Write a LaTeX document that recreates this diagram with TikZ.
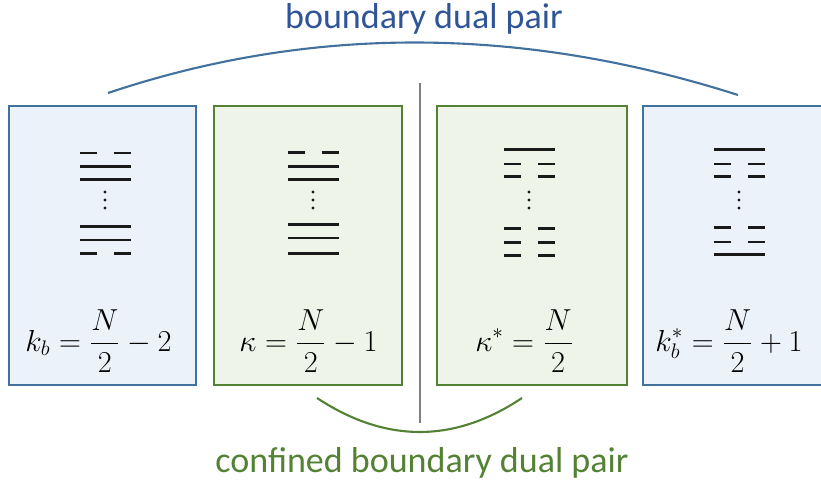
\documentclass[tikz,border=0pt]{standalone}
\usepackage{fontspec}
\newfontfamily\labelfont{Carlito}

\definecolor{boxblue}{HTML}{41719C}
\definecolor{fillblue}{HTML}{ECF2FA}
\definecolor{textblue}{HTML}{2F5597}
\definecolor{boxgreen}{HTML}{548235}
\definecolor{fillgreen}{HTML}{EEF4E8}

\tikzset{
    bluebox/.style={draw=boxblue, fill=fillblue, line width=1.1pt, minimum height=5.58cm},
    greenbox/.style={draw=boxgreen, fill=fillgreen, line width=1.1pt, minimum height=5.58cm},
    bar/.style={line width=1.6pt, color=black!90},
    formula/.style={font=\fontsize{17}{20}\selectfont},
    pairlabel/.style={font=\labelfont\fontsize{20.5}{24}\selectfont, anchor=base}
}

\newcommand{\fullbar}[2]{\draw[bar] (#1-25.5,#2) -- (#1+25.5,#2);}
\newcommand{\splitbar}[2]{%
    \draw[bar] (#1-25.5,#2) -- (#1-8.5,#2);
    \draw[bar] (#1+8.5,#2) -- (#1+25.5,#2);}
\newcommand{\dotsat}[1]{%
    \foreach \d in {192,200,208}
        \fill[black!90] (#1,\d) circle (1.7);}

\begin{document}
\begin{tikzpicture}[x=0.02cm,y=-0.02cm]

\clip (0,0) rectangle (821,486);
\useasboundingbox (0,0) rectangle (821,486);

% Boxes
\node[bluebox, minimum width=3.74cm] (kb) at (102.5,245.5) {};
\node[greenbox, minimum width=3.76cm] (kappa) at (308,245.5) {};
\node[greenbox, minimum width=3.80cm] (kappastar) at (532,245.5) {};
\node[bluebox, minimum width=3.90cm] (kbstar) at (740.5,245.5) {};

% Divider
\coordinate (divtop) at (420,83);
\coordinate (divbot) at (420,423);
\draw[black!50, line width=0.8pt] (divtop) -- (divbot);

% Stacks of bars
\splitbar{105}{153}
\fullbar{105}{166.7}
\fullbar{105}{179.3}
\dotsat{105}
\fullbar{105}{226.7}
\fullbar{105}{240}
\splitbar{105}{253.3}

\splitbar{313}{152.7}
\fullbar{313}{166.7}
\fullbar{313}{179.3}
\dotsat{313}
\foreach \y in {224.7,238,253.7}
    {\fullbar{313}{\y}}

\fullbar{529}{149.3}
\splitbar{529}{164}
\splitbar{529}{176.7}
\dotsat{529}
\foreach \y in {228.7,242.7,255.7}
    {\splitbar{529}{\y}}

\fullbar{739}{149.3}
\splitbar{739}{164}
\splitbar{739}{176.7}
\dotsat{739}
\splitbar{739}{227.7}
\splitbar{739}{242}
\fullbar{739}{254.3}

% Formulas
\node[formula] (fkb) at (98.5,341) {$\displaystyle k_b=\frac{N}{2}-2$};
\node[formula] (fkappa) at (308.5,341) {$\displaystyle \kappa=\frac{N}{2}-1$};
\node[formula] (fkappastar) at (524.5,341) {$\displaystyle \kappa^*=\frac{N}{2}$};
\node[formula] (fkbstar) at (729,341) {$\displaystyle k_b^*=\frac{N}{2}+1$};

% Top arc
\coordinate (topl) at (108,93);
\coordinate (topr) at (738,95);
\draw[boxblue, line width=1.2pt] (topl) .. controls (311,25) and (521,25.7) .. (topr);
\node[pairlabel, textblue] (toplabel) at (424,29) {boundary dual pair};

% Bottom arc
\coordinate (botl) at (317,398);
\coordinate (botr) at (522,398);
\draw[boxgreen, line width=1.2pt] (botl) .. controls (385.7,443.3) and (454,443.3) .. (botr);
\node[pairlabel, boxgreen] (botlabel) at (422,472) {confined boundary dual pair};

\end{tikzpicture}
\end{document}
